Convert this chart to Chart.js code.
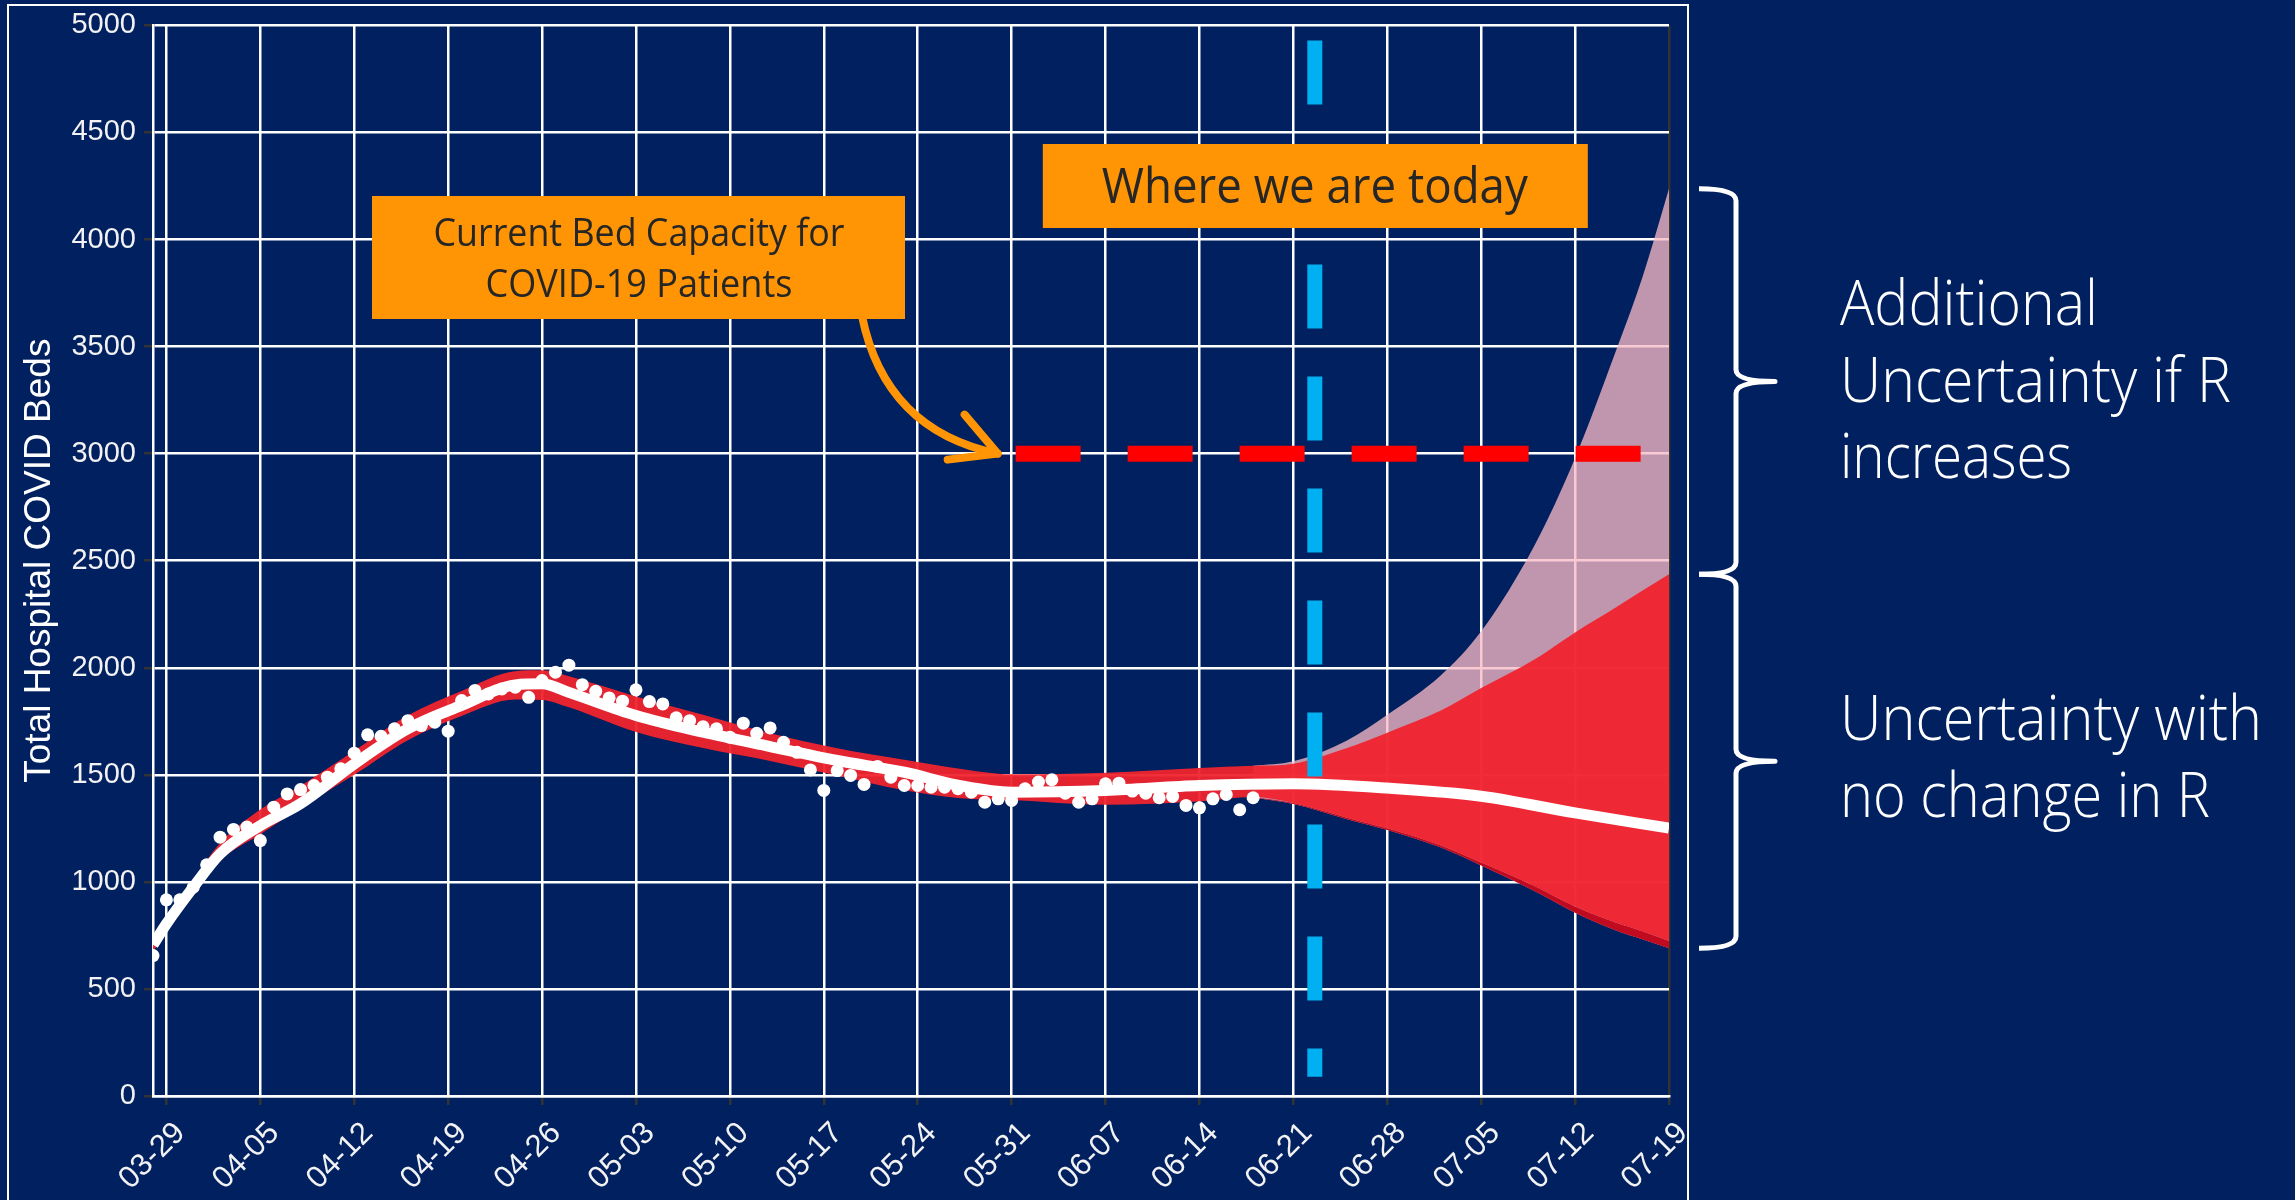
<!DOCTYPE html>
<html>
<head>
<meta charset="utf-8">
<script src="https://cdn.jsdelivr.net/npm/chart.js@4.4.1/dist/chart.umd.min.js"></script>
<style>
  html, body { margin: 0; padding: 0; background: #00205f; overflow: hidden; }
  canvas { display: block; }
</style>
</head>
<body>
<canvas id="chart-beds" width="2295" height="1200"></canvas>
<script>
// ── Data ──────────────────────────────────────────────────────────────────────
// x values are days after 03-29
const TICK_LABELS = ['03-29','04-05','04-12','04-19','04-26','05-03','05-10','05-17','05-24',
                     '05-31','06-07','06-14','06-21','06-28','07-05','07-12','07-19'];

// daily census, first point is 03-28
const OBS_START = -1;
const OBS_VALUES = [
  656, 916, 916, 975, 1080, 1209, 1245, 1256, 1193, 1349, 1411, 1431, 1450, 1489, 1528, 1601,
  1687, 1680, 1715, 1753, 1730, 1746, 1704, 1847, 1894, 1878, 1901, 1909, 1862, 1940, 1979, 2012,
  1921, 1890, 1859, 1844, 1897, 1842, 1831, 1766, 1753, 1725, 1715, 1676, 1741, 1694, 1719, 1652,
  1605, 1523, 1427, 1520, 1497, 1455, 1539, 1489, 1450, 1450, 1442, 1442, 1435, 1419, 1372, 1388,
  1380, 1435, 1466, 1477, 1414, 1372, 1388, 1458, 1461, 1424, 1414, 1393, 1399, 1357, 1346, 1388,
  1408, 1337, 1393,
];

// model fit (white line)
const FIT_DAYS   = [-1, 0, 2, 4, 7, 10, 14, 18, 22, 26, 28, 30, 35, 40, 45, 50, 55, 59, 63, 70, 77, 84, 91, 98, 105, 112];
const FIT_VALUES = [706, 804, 975, 1131, 1263, 1365, 1551, 1715, 1824, 1920, 1925, 1885, 1777, 1699, 1632, 1567,
                    1512, 1452, 1419, 1427, 1450, 1458, 1438, 1400, 1322, 1251];

// fitted band, past
const HIST_DAYS = [-1, 0, 2, 4, 7, 10, 14, 18, 22, 26, 28, 30, 35, 40, 45, 50, 55, 59, 63, 70, 77];
const HIST_HIGH = [735, 840, 1010, 1182, 1338, 1448, 1612, 1778, 1892, 1984, 1988, 1960, 1866, 1780, 1694, 1624, 1570, 1530, 1503, 1510, 1532];
const HIST_LOW  = [675, 765, 935, 1098, 1222, 1345, 1500, 1662, 1775, 1852, 1850, 1815, 1700, 1625, 1565, 1497, 1428, 1392, 1382, 1360, 1375];

// projection: no change in R (red) and R increases (pink)
const PROJ_DAYS = [81, 84, 88, 91, 95, 98, 102, 105, 108, 110, 112];
const PROJ_HIGH = [1542, 1552, 1625, 1697, 1800, 1905, 2040, 2165, 2280, 2360, 2437];
const PROJ_LOW  = [1396, 1368, 1300, 1250, 1170, 1090, 980, 885, 810, 770, 724];
const PINK_HIGH = [1542, 1563, 1660, 1780, 1965, 2170, 2575, 2980, 3472, 3820, 4237];
const PINK_LOW  = [1394, 1364, 1293, 1242, 1160, 1076, 956, 856, 774, 732, 690];

const CAPACITY = 3000;
const CAP_DAYS = [63.3, 110.3];
const TODAY_DAY = 85.6;
const TODAY_SPAN = [4930, 90];

// ── Styles ────────────────────────────────────────────────────────────────────
const ORANGE = '#ff9405';
const TEXT_DARK = '#262626';
const AXIS_FONT = 'Liberation Sans, Arial, sans-serif';
const NOTE_FONT = '"Open Sans", sans-serif';

const pts = (xs, ys) => xs.map((x, i) => ({ x, y: ys[i] }));
const hidden = { borderColor: 'transparent', borderWidth: 1, pointRadius: 0, fill: false };

// ── Annotations (boxes, arrow, braces, side notes) ────────────────────────────
function centerText(ctx, text, cx, base, font, color, maxW) {
  ctx.font = font;
  ctx.fillStyle = color;
  ctx.textAlign = 'center';
  ctx.textBaseline = 'alphabetic';
  ctx.fillText(text, cx, base, maxW);
}

function brace(ctx, x0, xs, xt, top, mid, bot) {
  const r = 12;
  ctx.beginPath();
  ctx.moveTo(x0, top);
  ctx.quadraticCurveTo(xs, top, xs, top + r);
  ctx.lineTo(xs, mid - r);
  ctx.quadraticCurveTo(xs, mid, xt, mid);
  ctx.quadraticCurveTo(xs, mid, xs, mid + r);
  ctx.lineTo(xs, bot - r);
  ctx.quadraticCurveTo(xs, bot, x0, bot);
  ctx.stroke();
}

const notesPlugin = {
  id: 'notes',
  afterDraw(chart) {
    const { ctx } = chart;
    const xs = chart.scales.x, ys = chart.scales.y;
    ctx.save();

    // outer frame
    ctx.strokeStyle = '#ffffff';
    ctx.lineWidth = 2;
    ctx.strokeRect(8, 5, 1680, 1300);

    // arrow to capacity line
    const tipX = xs.getPixelForValue(CAP_DAYS[0]) - 18;
    const tipY = ys.getPixelForValue(CAPACITY);
    ctx.strokeStyle = ORANGE;
    ctx.lineWidth = 8;
    ctx.lineCap = 'round';
    ctx.lineJoin = 'round';
    ctx.beginPath();
    ctx.moveTo(862, 316);
    ctx.quadraticCurveTo(885, 430, tipX, tipY);
    ctx.stroke();
    ctx.beginPath();
    ctx.moveTo(tipX - 33, tipY - 39);
    ctx.lineTo(tipX, tipY);
    ctx.lineTo(tipX - 50, tipY + 6);
    ctx.stroke();

    // bed capacity box
    ctx.fillStyle = ORANGE;
    ctx.fillRect(372, 196, 533, 123);
    centerText(ctx, 'Current Bed Capacity for', 639, 246, '39px ' + NOTE_FONT, TEXT_DARK, 411);
    centerText(ctx, 'COVID-19 Patients', 639, 297, '39px ' + NOTE_FONT, TEXT_DARK, 307);

    // today box
    const todayX = xs.getPixelForValue(TODAY_DAY);
    ctx.fillStyle = ORANGE;
    ctx.fillRect(todayX - 272, 144, 545, 84);
    centerText(ctx, 'Where we are today', todayX, 203, '49px ' + NOTE_FONT, TEXT_DARK, 426);

    // braces tied to the last projected values
    const last = PROJ_DAYS.length - 1;
    ctx.strokeStyle = '#ffffff';
    ctx.lineWidth = 5;
    ctx.lineCap = 'butt';
    const bTop = ys.getPixelForValue(PINK_HIGH[last]);
    const bMid = ys.getPixelForValue(PROJ_HIGH[last]);
    const bBot = ys.getPixelForValue(PINK_LOW[last]);
    brace(ctx, 1699, 1736, 1775, bTop, (bTop + bMid) / 2, bMid);
    brace(ctx, 1699, 1736, 1775, bMid, (bMid + bBot) / 2, bBot);

    // side notes
    ctx.font = '300 62px ' + NOTE_FONT;
    ctx.fillStyle = '#ffffff';
    ctx.textAlign = 'left';
    ctx.textBaseline = 'alphabetic';
    ctx.fillText('Additional', 1840, 325, 258);
    ctx.fillText('Uncertainty if R', 1840, 402, 391);
    ctx.fillText('increases', 1840, 478, 232);
    ctx.fillText('Uncertainty with', 1840, 740, 422);
    ctx.fillText('no change in R', 1840, 817, 370);

    ctx.restore();
  },
};

// ── Chart ─────────────────────────────────────────────────────────────────────
function renderBedsChart() {
  const ctx = document.getElementById('chart-beds');
  new Chart(ctx, {
    type: 'line',
    data: {
      datasets: [
        { ...hidden, data: pts(PROJ_DAYS, PINK_LOW), order: 9, cubicInterpolationMode: 'monotone' },
        { ...hidden, data: pts(PROJ_DAYS, PINK_HIGH), order: 8, cubicInterpolationMode: 'monotone',
          fill: '-1', backgroundColor: 'rgba(248,186,198,0.77)' },
        { ...hidden, data: pts(PROJ_DAYS, PROJ_LOW), order: 7, cubicInterpolationMode: 'monotone',
          fill: '-2', backgroundColor: 'rgb(192,10,32)' },
        { ...hidden, data: pts(HIST_DAYS.concat(PROJ_DAYS), HIST_LOW.concat(PROJ_LOW)), order: 6,
          cubicInterpolationMode: 'monotone' },
        { ...hidden, data: pts(HIST_DAYS.concat(PROJ_DAYS), HIST_HIGH.concat(PROJ_HIGH)), order: 5,
          cubicInterpolationMode: 'monotone', fill: '-1', backgroundColor: 'rgba(240,36,46,0.95)' },
        { label: 'Fit', data: pts(FIT_DAYS, FIT_VALUES), order: 4, borderColor: '#ffffff', borderWidth: 11,
          pointRadius: 0, cubicInterpolationMode: 'monotone', fill: false },
        { label: 'Observed', data: OBS_VALUES.map((v, i) => ({ x: OBS_START + i, y: v })), order: 3,
          showLine: false, pointRadius: 6.5, pointBackgroundColor: '#ffffff', pointBorderWidth: 0, fill: false },
        { label: 'Capacity', data: CAP_DAYS.map(d => ({ x: d, y: CAPACITY })), order: 2,
          borderColor: '#ff0000', borderWidth: 16, borderDash: [65, 47], borderCapStyle: 'butt',
          pointRadius: 0, tension: 0, fill: false },
        { label: 'Today', data: TODAY_SPAN.map(v => ({ x: TODAY_DAY, y: v })), order: 1,
          borderColor: '#00b0f0', borderWidth: 15, borderDash: [64, 48], borderCapStyle: 'butt',
          pointRadius: 0, tension: 0, fill: false },
      ],
    },
    options: {
      responsive: false,
      devicePixelRatio: 1,
      animation: false,
      layout: { padding: { top: 25, right: 626, left: 0, bottom: 0 } },
      plugins: { legend: { display: false }, tooltip: { enabled: false } },
      scales: {
        x: {
          type: 'linear',
          min: -1,
          max: 112,
          afterBuildTicks: s => { s.ticks = TICK_LABELS.map((_, i) => ({ value: i * 7 })); },
          afterFit: s => { s.height = 104; },
          ticks: {
            callback: (v, i) => TICK_LABELS[i],
            minRotation: 45,
            maxRotation: 45,
            autoSkip: false,
            color: '#f2f2f2',
            padding: 10,
            labelOffset: 14,
            font: { family: AXIS_FONT, size: 31 },
          },
          grid: {
            color: c => (c.tick && c.tick.value === 112 ? '#333333' : '#ffffff'),
            lineWidth: 2.5,
            tickColor: '#333333',
            tickLength: 9,
          },
          border: { color: '#ffffff', width: 2.5 },
        },
        y: {
          min: 0,
          max: 5000,
          afterFit: s => { s.width = 153; },
          ticks: {
            stepSize: 500,
            callback: v => String(v),
            color: '#f2f2f2',
            padding: 8,
            font: { family: AXIS_FONT, size: 29 },
          },
          grid: { color: '#ffffff', lineWidth: 2.5, tickColor: '#333333', tickLength: 9 },
          border: { color: '#ffffff', width: 2.5 },
          title: {
            display: true,
            text: 'Total Hospital COVID Beds',
            color: '#ffffff',
            padding: { top: 18, bottom: 0 },
            font: { family: AXIS_FONT, size: 37 },
          },
        },
      },
    },
    plugins: [notesPlugin],
  });
}

Promise.all([
  document.fonts.load('39px "Open Sans"'),
  document.fonts.load('300 62px "Open Sans"'),
  document.fonts.load('26px "Liberation Sans"'),
]).catch(() => {}).then(renderBedsChart);
</script>
</body>
</html>
